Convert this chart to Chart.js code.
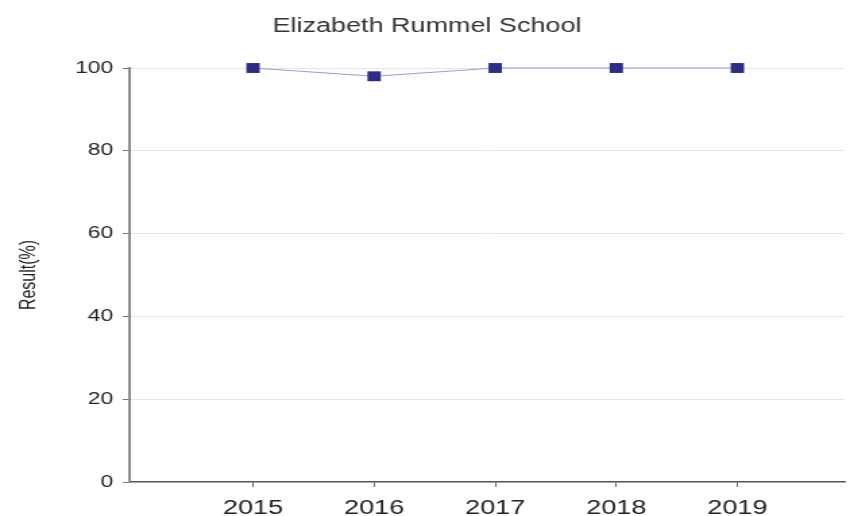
<!DOCTYPE html>
<html>
<head>
<meta charset="utf-8">
<script src="https://cdn.jsdelivr.net/npm/chart.js@4/dist/chart.umd.min.js"></script>
<style>
  html, body { margin: 0; padding: 0; background: #ffffff; overflow: hidden; }
  #wrap { width: 854px; height: 516px; overflow: hidden; }
  #c { display: block; transform: scaleX(1.3491); transform-origin: 0 0; }
</style>
</head>
<body>
<div id="wrap"><canvas id="c" width="633" height="516"></canvas></div>
<script>
const chartTitle = 'Elizabeth Rummel School';
const yAxisTitle = 'Result(%)';
const years = [2015, 2016, 2017, 2018, 2019];
const results = [100, 98, 100, 100, 100];
const yTicks = [0, 20, 40, 60, 80, 100];

const FONT = "'Liberation Sans', Arial, sans-serif";

new Chart(document.getElementById('c'), {
  type: 'line',
  data: {
    datasets: [{
      label: chartTitle,
      data: years.map((y, i) => ({ x: y, y: results[i] })),
      borderColor: '#9a9ad6',
      borderWidth: 1,
      backgroundColor: '#2c2c86',
      pointBackgroundColor: '#2c2c86',
      pointBorderColor: '#2c2c86',
      pointBorderWidth: 0,
      pointStyle: 'rect',
      pointRadius: 7,
      tension: 0,
      fill: false,
      clip: false
    }]
  },
  options: {
    responsive: false,
    animation: false,
    devicePixelRatio: 1,
    layout: { padding: { left: 0, right: 0, top: 0, bottom: 0 } },
    plugins: {
      legend: { display: false },
      tooltip: { enabled: false },
      title: {
        display: true,
        text: chartTitle,
        color: '#333333',
        font: { family: FONT, size: 20, weight: 'normal' },
        padding: { top: 14, bottom: 30 }
      }
    },
    scales: {
      x: {
        type: 'linear',
        min: 2013.98,
        max: 2019.885,
        afterFit: (s) => { s.height = 34; },
        afterBuildTicks: (s) => { s.ticks = years.map(v => ({ value: v })); },
        ticks: {
          callback: (v) => String(v),
          color: '#222222',
          font: { family: FONT, size: 20 },
          padding: 9,
          maxRotation: 0,
          autoSkip: false
        },
        grid: {
          drawOnChartArea: false,
          drawTicks: true,
          tickLength: 5,
          color: '#666666'
        },
        border: { display: true, color: '#555555', width: 1.5 }
      },
      y: {
        min: 0,
        max: 100,
        afterFit: (s) => { s.width = 96; },
        afterBuildTicks: (s) => { s.ticks = yTicks.map(v => ({ value: v })); },
        ticks: {
          color: '#222222',
          font: { family: FONT, size: 17 },
          padding: 7
        },
        grid: {
          color: (ctx) => (ctx.tick && ctx.tick.value === 0 ? 'rgba(0,0,0,0)' : '#e4e4e4'),
          lineWidth: 1,
          drawTicks: true,
          tickLength: 5,
          tickColor: '#777777'
        },
        border: { display: true, color: '#8a8a8a', width: 2 },
        title: {
          display: true,
          text: yAxisTitle,
          color: '#222222',
          font: { family: FONT, size: 16 },
          padding: { top: 12, bottom: 0 }
        }
      }
    }
  }
});
</script>
</body>
</html>
